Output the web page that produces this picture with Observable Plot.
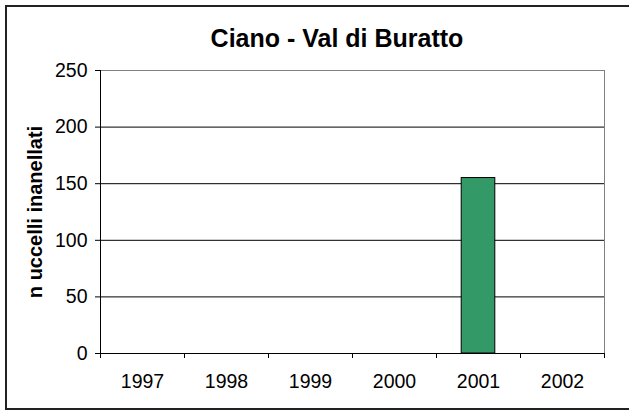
<!DOCTYPE html>
<html><head><meta charset="utf-8">
<script src="https://cdn.jsdelivr.net/npm/d3@7"></script>
<script src="https://cdn.jsdelivr.net/npm/@observablehq/plot@0.6"></script>
<style>
html,body{margin:0;padding:0;background:#fff;overflow:hidden;}
#wrap{position:relative;width:629px;height:410px;overflow:hidden;font-family:"Liberation Sans",Arial,sans-serif;background:#fff;}
#frame{position:absolute;left:5px;top:5px;width:624px;height:405px;border:2px solid #222;border-right:none;box-sizing:border-box;}
#title{position:absolute;left:0;width:674px;top:26px;line-height:25px;font-size:25px;font-weight:bold;text-align:center;color:#000;}
#chart{position:absolute;left:0;top:0;}
</style>
</head><body>
<div id="wrap"><div id="frame"></div><div id="title">Ciano - Val di Buratto</div><div id="chart"></div></div>
<script>
const years = [1997, 1998, 1999, 2000, 2001, 2002];
const values = [0, 0, 0, 0, 155, 0];
const yTicks = [0, 50, 100, 150, 200, 250];
const yLabel = "n uccelli inanellati";

const data = years.map((year, i) => ({year, value: values[i]}));
const boundaries = [...years.map(y => y - 0.5), years[years.length - 1] + 0.5];

const chart = Plot.plot({
  width: 629, height: 410,
  marginLeft: 100, marginRight: 25, marginTop: 70, marginBottom: 57,
  style: {fontFamily: "'Liberation Sans', Arial, sans-serif", fontSize: "19.5px", color: "#000", background: "transparent", overflow: "hidden"},
  x: {type: "linear", domain: [boundaries[0], boundaries[boundaries.length - 1]]},
  y: {domain: [0, 250]},
  marks: [
    Plot.ruleY(yTicks.filter(v => v > 0 && v < 250), {stroke: "#000", strokeWidth: 1}),
    Plot.ruleY([250], {stroke: "#808080"}),
    Plot.ruleX([boundaries[boundaries.length - 1]], {stroke: "#808080"}),
    Plot.rect(data, {filter: d => d.value > 0, x1: d => d.year - 0.2, x2: d => d.year + 0.2, y1: 0, y2: "value", fill: "#339966", stroke: "#000", strokeWidth: 1}),
    Plot.ruleX([boundaries[0]], {stroke: "#000"}),
    Plot.ruleY([0], {stroke: "#000"}),
    Plot.axisY({ticks: yTicks, tickSize: 5, tickPadding: 8, label: null, tickFormat: d => String(d)}),
    Plot.axisX({ticks: boundaries, tickSize: 5, tickFormat: () => "", label: null}),
    Plot.axisX({ticks: years, tickSize: 0, tickPadding: 21, tickFormat: d => String(d), label: null}),
    Plot.text([yLabel], {frameAnchor: "left", textAnchor: "middle", lineAnchor: "middle", rotate: -90, dx: -65, fontWeight: "bold", fontSize: 20, fill: "#000"})
  ]
});
document.getElementById("chart").appendChild(chart);
</script>
</body></html>
